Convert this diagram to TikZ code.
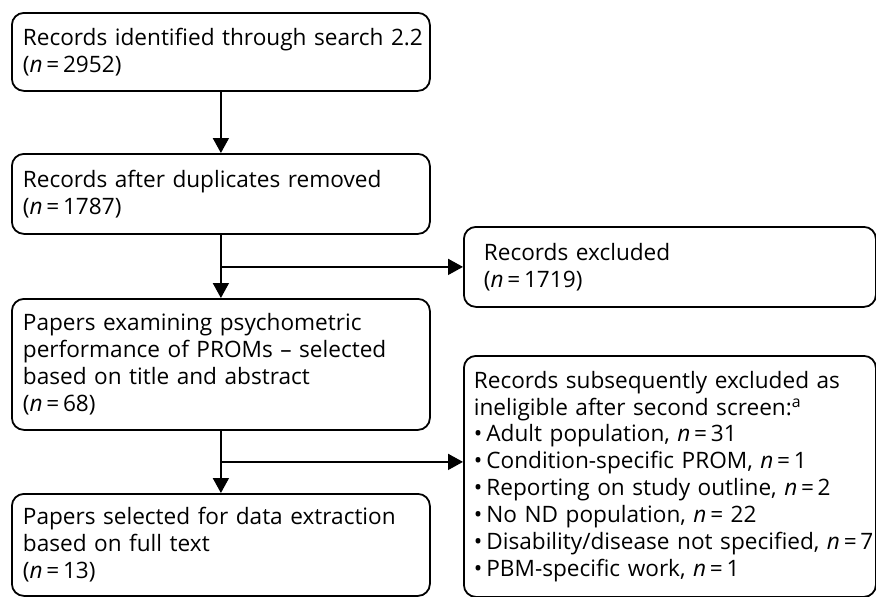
\documentclass[tikz,border=0pt]{standalone}
\usepackage{fontspec}
\setmainfont{Open Sans}
\usetikzlibrary{arrows.meta,calc}
\newcommand{\nn}[1]{(\textit{n}\,=\,#1)}
% one unbreakable line of box text
\newcommand{\tl}[1]{\mbox{#1}}
% bulleted line
\newcommand{\bl}[1]{\mbox{\textbullet\hspace{4pt}#1}}
\begin{document}
\begin{tikzpicture}[x=1pt,y=-1pt,
  box/.style={draw, line width=1.8pt, rounded corners=12pt, anchor=north west,
    align=left, inner xsep=11pt, inner ysep=0pt,
    font=\fontsize{22.6}{26.9}\selectfont},
  flow/.style={line width=1.8pt, -{Triangle[length=15pt,width=16pt]}}]
\useasboundingbox (0,0) rectangle (876,597);
% main column
\node[box, minimum width=418pt, minimum height=78pt, text width=396pt] (b1) at (11,12)
  {\tl{Records identified through search 2.2}\\\nn{2952}};
\node[box, minimum width=418pt, minimum height=80pt, text width=396pt] (b2) at (11,153)
  {\tl{Records after duplicates removed}\\\nn{1787}};
\node[box, minimum width=418pt, minimum height=131pt, text width=396pt] (b3) at (11,298)
  {\tl{Papers examining psychometric}\\\tl{performance of PROMs -- selected}\\\tl{based on title and abstract}\\\nn{68}};
\node[box, minimum width=418pt, minimum height=102pt, text width=396pt] (b4) at (11,493)
  {\tl{Papers selected for data extraction}\\\tl{based on full text}\\\nn{13}};
% exclusion boxes
\node[box, inner xsep=20pt, minimum width=412pt, minimum height=80pt, text width=372pt] (e1) at (463,226)
  {\tl{Records excluded}\\\nn{1719}};
\node[box, inner xsep=10pt, minimum width=412pt, minimum height=241pt, text width=392pt] (e2) at (463,355)
  {\tl{Records subsequently excluded as}\\\tl{ineligible after second screen:\textsuperscript{a}}\\
   \bl{Adult population, \textit{n}\,=\,31}\\
   \bl{Condition-specific PROM, \textit{n}\,=\,1}\\
   \bl{Reporting on study outline, \textit{n}\,=\,2}\\
   \bl{No ND population, \textit{n}\,=\ 22}\\
   \bl{Disability/disease not specified, \textit{n}\,=\,7}\\
   \bl{PBM-specific work, \textit{n}\,=\,1}};
% connectors
\coordinate (j1) at (b2.south |- e1.west);
\coordinate (j2) at ($(b3.south)!0.5!(b4.north)$);
\draw[flow] (b1) -- (b2);
\draw[flow] (b2) -- (b3);
\draw[flow] (b3) -- (b4);
\draw[flow] (j1) -- (e1.west);
\draw[flow] (j2) -- (j2 -| e2.west);
\end{tikzpicture}
\end{document}
